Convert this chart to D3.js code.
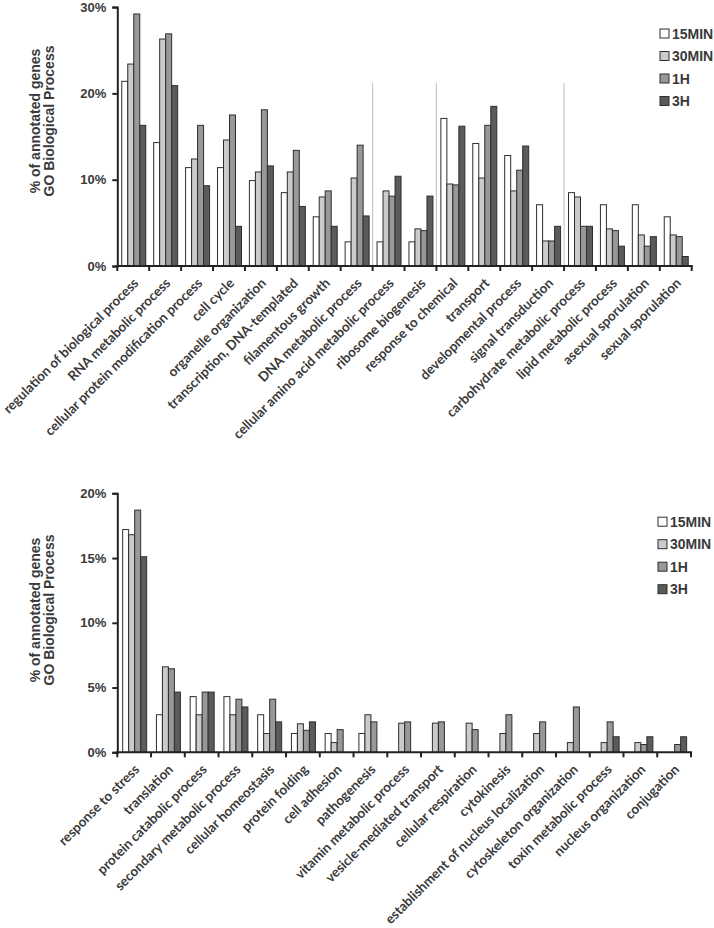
<!DOCTYPE html>
<html><head><meta charset="utf-8">
<script src="https://cdn.jsdelivr.net/npm/d3@7/dist/d3.min.js"></script>
<style>body{margin:0;background:#fff}</style>
</head><body><svg id="c" width="714" height="928"></svg>
<script>
const series = ["15MIN","30MIN","1H","3H"];
const seriesColors = ["#ffffff","#cbcbcb","#989898","#5b5b5b"];

const topCategories = ["regulation of biological process","RNA metabolic process","cellular protein modification process","cell cycle","organelle organization","transcription, DNA-templated","filamentous growth","DNA metabolic process","cellular amino acid metabolic process","ribosome biogenesis","response to chemical","transport","developmental process","signal transduction","carbohydrate metabolic process","lipid metabolic process","asexual sporulation","sexual sporulation"];
const top15MIN = [21.4,14.3,11.4,11.4,9.9,8.5,5.7,2.8,2.8,2.8,17.1,14.2,12.8,7.1,8.5,7.1,7.1,5.7];
const top30MIN = [23.4,26.3,12.4,14.6,10.9,10.9,8.0,10.2,8.7,4.3,9.5,10.2,8.7,2.9,8.0,4.3,3.6,3.6];
const top1H    = [29.2,26.9,16.3,17.5,18.1,13.4,8.7,14.0,8.1,4.1,9.4,16.3,11.1,2.9,4.6,4.1,2.3,3.4];
const top3H    = [16.3,20.9,9.3,4.6,11.6,6.9,4.6,5.8,10.4,8.1,16.2,18.5,13.9,4.6,4.6,2.3,3.4,1.1];
const topTicks = [0,10,20,30];
const topGridBoundaries = [8,10,14];
const topGridTop = 21.2;

const botCategories = ["response to stress","translation","protein catabolic process","secondary metabolic process","cellular homeostasis","protein folding","cell adhesion","pathogenesis","vitamin metabolic process","vesicle-mediated transport","cellular respiration","cytokinesis","establishment of nucleus localization","cytoskeleton organization","toxin metabolic process","nucleus organization","conjugation"];
const bot15MIN = [17.2,2.9,4.3,4.3,2.9,1.45,1.45,1.45,0,0,0,0,0,0,0,0,0];
const bot30MIN = [16.8,6.6,2.9,2.9,1.45,2.2,0.75,2.9,2.25,2.25,2.25,1.45,1.45,0.75,0.75,0.75,0];
const bot1H    = [18.7,6.45,4.65,4.1,4.1,1.7,1.75,2.35,2.35,2.35,1.75,2.9,2.35,3.5,2.35,0.6,0.6];
const bot3H    = [15.1,4.65,4.65,3.5,2.35,2.35,0,0,0,0,0,0,0,0,1.2,1.2,1.2];
const botTicks = [0,5,10,15,20];

const yTitle = ["% of annotated genes","GO Biological Process"];

const svg = d3.select("#c");
const textCol = "#3a3a3a";

function drawChart(cfg){
  const g = svg.append("g");
  const x = d3.scaleBand().domain(cfg.cats).range([cfg.x0, cfg.x1]).paddingInner(0).paddingOuter(0);
  const y = d3.scaleLinear().domain([0, cfg.ymax]).range([cfg.y0, cfg.y1]);
  const groupW = 24;
  const xs = d3.scaleBand().domain(series).range([0, groupW]);
  const vals = cfg.values;

  if (cfg.grid) {
    g.selectAll("line.sep").data(cfg.grid).enter().append("line")
      .attr("x1", d => cfg.x0 + d * x.step()).attr("x2", d => cfg.x0 + d * x.step())
      .attr("y1", y(cfg.gridTop)).attr("y2", y(0))
      .attr("stroke", "#c8c8c8").attr("stroke-width", 1.2);
  }

  series.forEach((s, si) => {
    g.selectAll("rect.s" + si).data(cfg.cats.map((c, i) => ({c, v: vals[si][i]})).filter(d => d.v > 0))
      .enter().append("rect")
      .attr("x", d => x(d.c) + (x.bandwidth() - groupW) / 2 + 0.5 + xs(s))
      .attr("width", xs.bandwidth())
      .attr("y", d => y(d.v))
      .attr("height", d => y(0) - y(d.v))
      .attr("fill", seriesColors[si])
      .attr("stroke", "#2e2e2e").attr("stroke-width", 1);
  });

  const ya = g.append("g").attr("transform", `translate(${cfg.x0},0)`)
    .call(d3.axisLeft(y).tickValues(cfg.ticks).tickFormat(d => d + "%").tickSize(5).tickPadding(6));
  ya.select(".domain").attr("stroke", "#222").attr("stroke-width", 2);
  ya.selectAll(".tick line").attr("stroke", "#222").attr("stroke-width", 2);
  ya.selectAll("text").attr("font-family", "'Liberation Sans', Arial, sans-serif")
    .attr("font-weight", "bold").attr("font-size", 13).attr("fill", textCol);

  const xa = g.append("g").attr("transform", `translate(0,${cfg.y0})`);
  xa.append("line").attr("x1", cfg.x0 - 1).attr("x2", cfg.x1 + 1).attr("y1", 0).attr("y2", 0)
    .attr("stroke", "#222").attr("stroke-width", 2);
  xa.selectAll("line.tk").data(d3.range(cfg.cats.length + 1)).enter().append("line")
    .attr("x1", d => cfg.x0 + d * x.step()).attr("x2", d => cfg.x0 + d * x.step())
    .attr("y1", 0).attr("y2", 5).attr("stroke", "#222").attr("stroke-width", 2);
  xa.selectAll("text").data(cfg.cats).enter().append("text")
    .attr("transform", d => `translate(${x(d) + x.bandwidth() / 2 + 6},${cfg.labelDy}) rotate(-45)`)
    .attr("text-anchor", "end")
    .attr("font-family", "Lato, 'Open Sans', sans-serif")
    .attr("font-weight", "bold").attr("font-size", 13.4).attr("fill", textCol)
    .text(d => d);

  const tt = g.append("text")
    .attr("transform", `translate(${cfg.titleX},${cfg.titleY}) rotate(-90)`)
    .attr("text-anchor", "middle")
    .attr("font-family", "'Liberation Sans', Arial, sans-serif")
    .attr("font-weight", "bold").attr("font-size", 14).attr("fill", textCol);
  yTitle.forEach((t, i) => tt.append("tspan").attr("x", 0).attr("y", i * 13.5).text(t));

  const lg = g.append("g");
  series.forEach((s, si) => {
    const cy = cfg.legY + si * 22.5;
    lg.append("rect").attr("x", cfg.legX).attr("y", cy - 4.5).attr("width", 9).attr("height", 9)
      .attr("fill", seriesColors[si]).attr("stroke", "#2e2e2e").attr("stroke-width", 1);
    lg.append("text").attr("x", cfg.legX + 12).attr("y", cy + 5)
      .attr("font-family", "'Liberation Sans', Arial, sans-serif")
      .attr("font-weight", "bold").attr("font-size", 14).attr("fill", textCol).text(s);
  });
}

drawChart({
  cats: topCategories, values: [top15MIN, top30MIN, top1H, top3H],
  x0: 117.3, x1: 691.7, y0: 266, y1: 7.1, ymax: 30, ticks: topTicks,
  grid: topGridBoundaries, gridTop: topGridTop,
  labelDy: 18, titleX: 40, titleY: 121, legX: 660, legY: 33.5
});
drawChart({
  cats: botCategories, values: [bot15MIN, bot30MIN, bot1H, bot3H],
  x0: 117.3, x1: 691, y0: 752.3, y1: 493.3, ymax: 20, ticks: botTicks,
  labelDy: 18, titleX: 40, titleY: 610, legX: 658, legY: 521.7
});
</script>
</body></html>
